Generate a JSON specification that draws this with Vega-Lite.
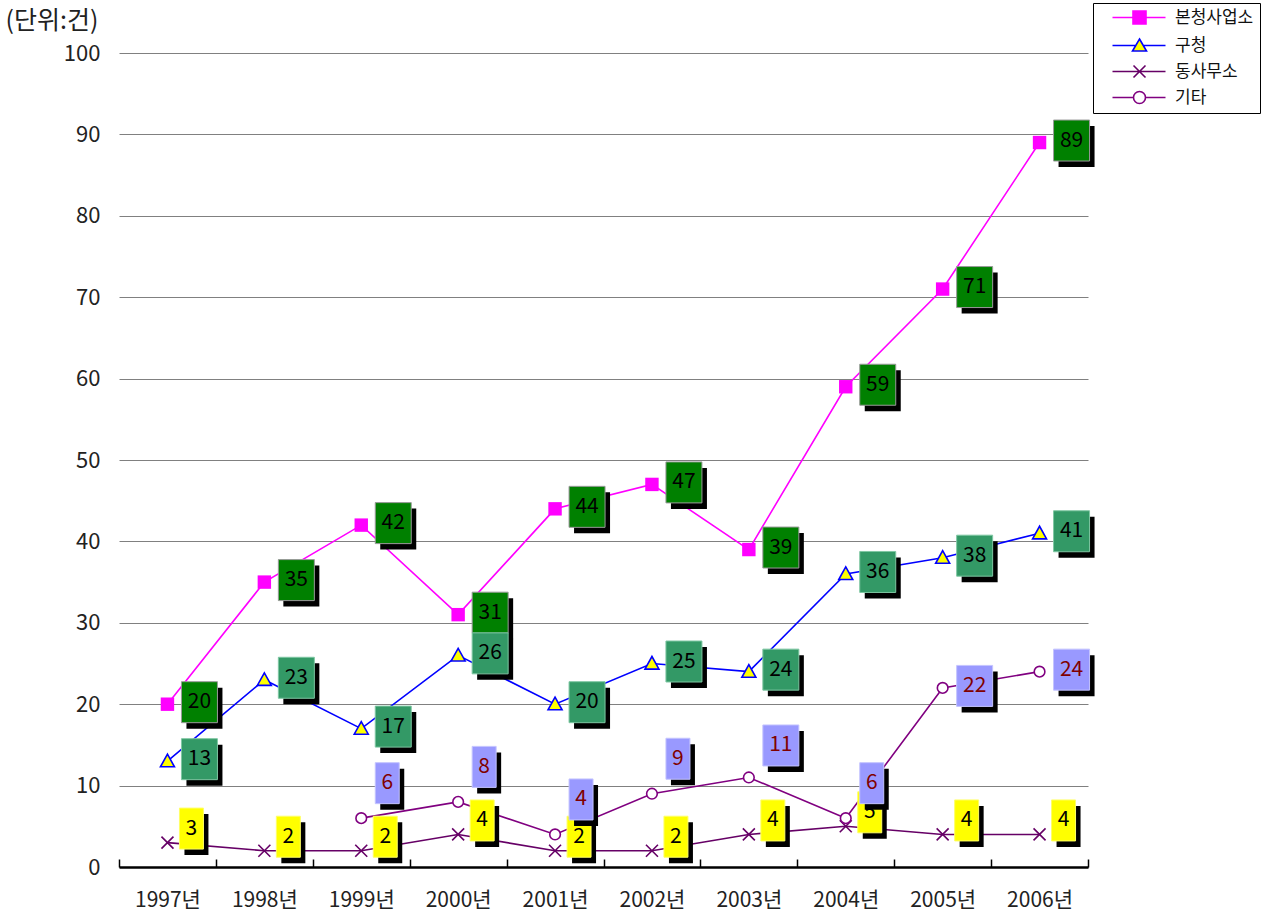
{
  "$schema": "https://vega.github.io/schema/vega-lite/v6.json",
  "width": 969,
  "height": 814,
  "autosize": {"type": "none"},
  "padding": {"left": 119, "top": 53, "right": 184, "bottom": 45},
  "background": "white",
  "config": {
    "view": {"stroke": null},
    "font": "Noto Sans CJK KR"
  },
  "datasets": {
    "d": [
      {"year": "1997년", "series": "본청사업소", "value": 20},
      {"year": "1998년", "series": "본청사업소", "value": 35},
      {"year": "1999년", "series": "본청사업소", "value": 42},
      {"year": "2000년", "series": "본청사업소", "value": 31},
      {"year": "2001년", "series": "본청사업소", "value": 44},
      {"year": "2002년", "series": "본청사업소", "value": 47},
      {"year": "2003년", "series": "본청사업소", "value": 39},
      {"year": "2004년", "series": "본청사업소", "value": 59},
      {"year": "2005년", "series": "본청사업소", "value": 71},
      {"year": "2006년", "series": "본청사업소", "value": 89},
      {"year": "1997년", "series": "구청", "value": 13},
      {"year": "1998년", "series": "구청", "value": 23},
      {"year": "1999년", "series": "구청", "value": 17},
      {"year": "2000년", "series": "구청", "value": 26},
      {"year": "2001년", "series": "구청", "value": 20},
      {"year": "2002년", "series": "구청", "value": 25},
      {"year": "2003년", "series": "구청", "value": 24},
      {"year": "2004년", "series": "구청", "value": 36},
      {"year": "2005년", "series": "구청", "value": 38},
      {"year": "2006년", "series": "구청", "value": 41},
      {"year": "1997년", "series": "동사무소", "value": 3},
      {"year": "1998년", "series": "동사무소", "value": 2},
      {"year": "1999년", "series": "동사무소", "value": 2},
      {"year": "2000년", "series": "동사무소", "value": 4},
      {"year": "2001년", "series": "동사무소", "value": 2},
      {"year": "2002년", "series": "동사무소", "value": 2},
      {"year": "2003년", "series": "동사무소", "value": 4},
      {"year": "2004년", "series": "동사무소", "value": 5},
      {"year": "2005년", "series": "동사무소", "value": 4},
      {"year": "2006년", "series": "동사무소", "value": 4},
      {"year": "1999년", "series": "기타", "value": 6},
      {"year": "2000년", "series": "기타", "value": 8},
      {"year": "2001년", "series": "기타", "value": 4},
      {"year": "2002년", "series": "기타", "value": 9},
      {"year": "2003년", "series": "기타", "value": 11},
      {"year": "2004년", "series": "기타", "value": 6},
      {"year": "2005년", "series": "기타", "value": 22},
      {"year": "2006년", "series": "기타", "value": 24}
    ]
  },
  "data": {"name": "d"},
  "encoding": {
    "x": {
      "field": "year", "type": "ordinal",
      "scale": {"type": "band", "paddingInner": 0, "paddingOuter": 0},
      "axis": {
        "title": null, "grid": false, "tickBand": "extent",
        "labelAngle": 0, "labelFontSize": 21, "labelColor": "#222", "labelPadding": 30,
        "domainColor": "black", "domainWidth": 2.5,
        "ticks": true, "tickSize": -8, "tickColor": "black", "tickWidth": 1.5
      }
    },
    "y": {
      "field": "value", "type": "quantitative",
      "scale": {"domain": [0, 100], "nice": false},
      "axis": {
        "title": "(단위:건)", "titleAngle": 0, "titleX": -114, "titleY": -33,
        "titleAlign": "left", "titleBaseline": "middle", "titleFontSize": 25,
        "titleFontWeight": "normal", "titleColor": "#222",
        "values": [0, 10, 20, 30, 40, 50, 60, 70, 80, 90, 100],
        "domain": false, "ticks": false, "grid": true, "gridColor": "#808080", "gridWidth": 1,
        "labelFontSize": 22, "labelColor": "#222", "labelPadding": 19
      }
    }
  },
  "layer": [
    {
      "mark": {"type": "line", "strokeWidth": 1.6},
      "encoding": {
        "color": {
          "field": "series", "type": "nominal",
          "scale": {"domain": ["기타", "동사무소", "구청", "본청사업소"], "range": ["#800080", "#660066", "#0000FF", "#FF00FF"]},
          "legend": null
        }
      }
    },
    {
      "transform": [{"filter": "datum.series === '본청사업소'"}],
      "mark": {"type": "point", "shape": "square", "filled": true, "fill": "#FF00FF", "stroke": "#FF00FF", "strokeWidth": 0, "size": 180, "opacity": 1}
    },
    {
      "transform": [{"filter": "datum.series === '구청'"}],
      "mark": {"type": "point", "shape": "M0,-1L1,0.8H-1Z", "filled": true, "fill": "#FFFF00", "stroke": "#0000FF", "strokeWidth": 1.6, "size": 196, "opacity": 1}
    },
    {
      "transform": [{"filter": "datum.series === '동사무소'"}],
      "mark": {"type": "point", "shape": "M-1,-1L1,1M-1,1L1,-1", "filled": false, "stroke": "#660066", "strokeWidth": 1.6, "size": 144, "opacity": 1}
    },
    {
      "transform": [{"filter": "datum.series === '기타'"}],
      "mark": {"type": "point", "shape": "circle", "filled": true, "fill": "#FFFFFF", "stroke": "#800080", "strokeWidth": 1.6, "size": 113, "opacity": 1}
    },

    {
      "transform": [{"filter": "datum.series === '본청사업소'"}],
      "mark": {"type": "point", "shape": "M-0.878,-1H0.878V1H-0.878Z", "filled": true, "fill": "black", "strokeWidth": 0, "size": 1681, "opacity": 1, "xOffset": 37, "yOffset": 4}
    },
    {
      "transform": [{"filter": "datum.series === '본청사업소'"}],
      "mark": {"type": "point", "shape": "M-0.878,-1H0.878V1H-0.878Z", "filled": true, "fill": "#008000", "stroke": "#9a9a9a", "strokeWidth": 1, "size": 1681, "opacity": 1, "xOffset": 32, "yOffset": -2}
    },
    {
      "transform": [{"filter": "datum.series === '본청사업소'"}],
      "mark": {"type": "text", "fontSize": 21, "color": "black", "dx": 32, "dy": -2, "align": "center", "baseline": "middle"},
      "encoding": {"text": {"field": "value", "type": "quantitative"}}
    },

    {
      "transform": [{"filter": "datum.series === '구청'"}],
      "mark": {"type": "point", "shape": "M-0.878,-1H0.878V1H-0.878Z", "filled": true, "fill": "black", "strokeWidth": 0, "size": 1681, "opacity": 1, "xOffset": 37, "yOffset": 4}
    },
    {
      "transform": [{"filter": "datum.series === '구청'"}],
      "mark": {"type": "point", "shape": "M-0.878,-1H0.878V1H-0.878Z", "filled": true, "fill": "#339966", "stroke": "#7fc7a3", "strokeWidth": 1, "size": 1681, "opacity": 1, "xOffset": 32, "yOffset": -2}
    },
    {
      "transform": [{"filter": "datum.series === '구청'"}],
      "mark": {"type": "text", "fontSize": 21, "color": "black", "dx": 32, "dy": -2, "align": "center", "baseline": "middle"},
      "encoding": {"text": {"field": "value", "type": "quantitative"}}
    },

    {
      "transform": [{"filter": "datum.series === '동사무소'"}],
      "mark": {"type": "point", "shape": "M-0.585,-1H0.585V1H-0.585Z", "filled": true, "fill": "black", "strokeWidth": 0, "size": 1681, "opacity": 1, "xOffset": 29, "yOffset": -8}
    },
    {
      "transform": [{"filter": "datum.series === '동사무소'"}],
      "mark": {"type": "point", "shape": "M-0.585,-1H0.585V1H-0.585Z", "filled": true, "fill": "#FFFF00", "stroke": "#FFFF66", "strokeWidth": 1, "size": 1681, "opacity": 1, "xOffset": 24, "yOffset": -14}
    },
    {
      "transform": [{"filter": "datum.series === '동사무소'"}],
      "mark": {"type": "text", "fontSize": 21, "color": "black", "dx": 24, "dy": -14, "align": "center", "baseline": "middle"},
      "encoding": {"text": {"field": "value", "type": "quantitative"}}
    },

    {
      "transform": [{"filter": "datum.series === '기타' && datum.value < 10"}],
      "mark": {"type": "point", "shape": "M-0.585,-1H0.585V1H-0.585Z", "filled": true, "fill": "black", "strokeWidth": 0, "size": 1681, "opacity": 1, "xOffset": 31, "yOffset": -29}
    },
    {
      "transform": [{"filter": "datum.series === '기타' && datum.value < 10"}],
      "mark": {"type": "point", "shape": "M-0.585,-1H0.585V1H-0.585Z", "filled": true, "fill": "#9999FF", "stroke": "#c4c4ff", "strokeWidth": 1, "size": 1681, "opacity": 1, "xOffset": 26, "yOffset": -35}
    },
    {
      "transform": [{"filter": "datum.series === '기타' && datum.value < 10"}],
      "mark": {"type": "text", "fontSize": 21, "color": "#800000", "dx": 26, "dy": -35, "align": "center", "baseline": "middle"},
      "encoding": {"text": {"field": "value", "type": "quantitative"}}
    },
    {
      "transform": [{"filter": "datum.series === '기타' && datum.value >= 10 && datum.value < 20"}],
      "mark": {"type": "point", "shape": "M-0.878,-1H0.878V1H-0.878Z", "filled": true, "fill": "black", "strokeWidth": 0, "size": 1681, "opacity": 1, "xOffset": 37, "yOffset": -26}
    },
    {
      "transform": [{"filter": "datum.series === '기타' && datum.value >= 10 && datum.value < 20"}],
      "mark": {"type": "point", "shape": "M-0.878,-1H0.878V1H-0.878Z", "filled": true, "fill": "#9999FF", "stroke": "#c4c4ff", "strokeWidth": 1, "size": 1681, "opacity": 1, "xOffset": 32, "yOffset": -32}
    },
    {
      "transform": [{"filter": "datum.series === '기타' && datum.value >= 10 && datum.value < 20"}],
      "mark": {"type": "text", "fontSize": 21, "color": "#800000", "dx": 32, "dy": -32, "align": "center", "baseline": "middle"},
      "encoding": {"text": {"field": "value", "type": "quantitative"}}
    },
    {
      "transform": [{"filter": "datum.series === '기타' && datum.value >= 20"}],
      "mark": {"type": "point", "shape": "M-0.878,-1H0.878V1H-0.878Z", "filled": true, "fill": "black", "strokeWidth": 0, "size": 1681, "opacity": 1, "xOffset": 37, "yOffset": 4}
    },
    {
      "transform": [{"filter": "datum.series === '기타' && datum.value >= 20"}],
      "mark": {"type": "point", "shape": "M-0.878,-1H0.878V1H-0.878Z", "filled": true, "fill": "#9999FF", "stroke": "#c4c4ff", "strokeWidth": 1, "size": 1681, "opacity": 1, "xOffset": 32, "yOffset": -2}
    },
    {
      "transform": [{"filter": "datum.series === '기타' && datum.value >= 20"}],
      "mark": {"type": "text", "fontSize": 21, "color": "#800000", "dx": 32, "dy": -2, "align": "center", "baseline": "middle"},
      "encoding": {"text": {"field": "value", "type": "quantitative"}}
    },

    {
      "mark": {"type": "point", "filled": true, "opacity": 0, "strokeWidth": 1.6},
      "encoding": {
        "shape": {
          "field": "series", "type": "nominal",
          "scale": {
            "domain": ["본청사업소", "구청", "동사무소", "기타"],
            "range": [
              "M1,0H11.6M5.1,-1.3H7.7V1.3H5.1Z",
              "M1,0H5.6M7.2,0H11.6M6.4,-1.3L7.8,1.1H5.0Z",
              "M1,0H11.6M5.2,-1.2L7.6,1.2M5.2,1.2L7.6,-1.2",
              "M1,0H5.2M7.6,0H11.6M7.6,0A1.2,1.2 0 1,1 5.2,0A1.2,1.2 0 1,1 7.6,0Z"
            ]
          },
          "legend": {
            "title": null, "orient": "none", "legendX": 974, "legendY": -50,
            "strokeColor": "black", "fillColor": "white", "padding": 6,
            "symbolSize": 100, "symbolStrokeWidth": 1.6, "symbolOpacity": 1,
            "labelFontSize": 17, "labelColor": "#111", "labelOffset": 59, "rowPadding": 7
          }
        },
        "stroke": {
          "field": "series", "type": "nominal",
          "scale": {"domain": ["본청사업소", "구청", "동사무소", "기타"], "range": ["#FF00FF", "#0000FF", "#660066", "#800080"]}
        },
        "fill": {
          "field": "series", "type": "nominal",
          "scale": {"domain": ["본청사업소", "구청", "동사무소", "기타"], "range": ["#FF00FF", "#FFFF00", "#660066", "#FFFFFF"]}
        }
      }
    }
  ]
}
